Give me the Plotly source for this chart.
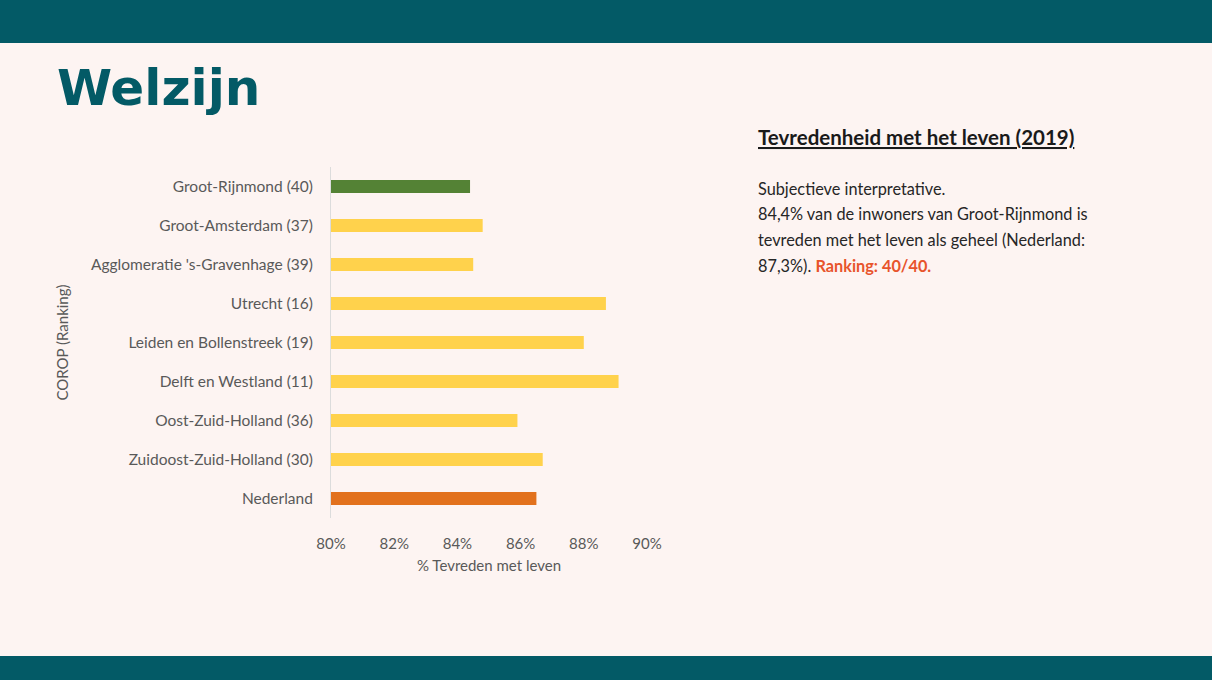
import plotly.graph_objects as go

# Data
regions = ['Groot-Rijnmond (40)', 'Groot-Amsterdam (37)', "Agglomeratie 's-Gravenhage (39)",
           'Utrecht (16)', 'Leiden en Bollenstreek (19)', 'Delft en Westland (11)',
           'Oost-Zuid-Holland (36)', 'Zuidoost-Zuid-Holland (30)', 'Nederland']
satisfied = [84.4, 84.8, 84.5, 88.7, 88.0, 89.1, 85.9, 86.7, 86.5]
bar_colors = ['#548235', '#FFD24C', '#FFD24C', '#FFD24C', '#FFD24C', '#FFD24C',
              '#FFD24C', '#FFD24C', '#E2711D']
x_ticks = [80, 82, 84, 86, 88, 90]
x_tick_labels = ['80%', '82%', '84%', '86%', '88%', '90%']

body_lines = [
    'Subjectieve interpretative.',
    '84,4% van de inwoners van Groot-Rijnmond is',
    'tevreden met het leven als geheel (Nederland:',
    "87,3%). <b><span style='color:#E8542C'>Ranking: 40/40.</span></b>",
]

W, H = 1212, 680
PLOT_L, PLOT_R, PLOT_T, PLOT_B = 331, 647, 167, 518
TEAL = '#035A66'
BG = '#FDF4F2'
FONT = 'Lato'


def px(x):
    return (x - PLOT_L) / (PLOT_R - PLOT_L)


def py(y):
    return (PLOT_B - y) / (PLOT_B - PLOT_T)


fig = go.Figure(go.Bar(x=satisfied, y=regions, orientation='h',
                       marker=dict(color=bar_colors, line=dict(width=0)),
                       width=0.33, showlegend=False, hoverinfo='x+y'))

fig.update_layout(
    width=W, height=H,
    margin=dict(l=PLOT_L, r=W - PLOT_R, t=PLOT_T, b=H - PLOT_B),
    paper_bgcolor=BG, plot_bgcolor=BG,
    font=dict(family=FONT, color='#595959', size=15),
)

fig.update_xaxes(range=[80, 90], tickvals=x_ticks, ticktext=x_tick_labels,
                 showgrid=False, zeroline=False, showline=False,
                 ticks='outside', ticklen=12, tickcolor='rgba(0,0,0,0)',
                 tickfont=dict(size=15, color='#595959'),
                 title=dict(text='% Tevreden met leven', standoff=9,
                            font=dict(size=15, color='#595959')))
fig.update_yaxes(autorange='reversed', showgrid=False, zeroline=False,
                 showline=True, linecolor='#DCDCDC', linewidth=1,
                 ticks='outside', ticklen=14, tickcolor='rgba(0,0,0,0)',
                 tickfont=dict(size=15.5, color='#595959'),
                 title=dict(text='COROP (Ranking)', standoff=18,
                            font=dict(size=15, color='#595959')))

# Top and bottom bands
fig.add_shape(type='rect', xref='paper', yref='paper', x0=px(0), x1=px(W), y0=py(43), y1=py(0),
              fillcolor=TEAL, line=dict(width=0), layer='below')
fig.add_shape(type='rect', xref='paper', yref='paper', x0=px(0), x1=px(W), y0=py(H), y1=py(656),
              fillcolor=TEAL, line=dict(width=0), layer='below')

# Slide title
fig.add_annotation(xref='paper', yref='paper', x=px(55), y=py(88), xanchor='left', yanchor='middle',
                   text='<b>Welzijn</b>', showarrow=False,
                   font=dict(family='DejaVu Sans', size=50, color=TEAL))

# Right-hand text block
fig.add_annotation(xref='paper', yref='paper', x=px(756), y=py(137), xanchor='left', yanchor='middle',
                   text='<u><b>Tevredenheid met het leven (2019)</b></u>', showarrow=False,
                   font=dict(family=FONT, size=20.5, color='#1A1A1A'))
for i, line in enumerate(body_lines):
    fig.add_annotation(xref='paper', yref='paper', x=px(756), y=py(188 + i * 25.7),
                       xanchor='left', yanchor='middle', text=line, showarrow=False,
                       font=dict(family=FONT, size=16.3, color='#262626'))

fig.write_html('out.html', config={'displayModeBar': False},
               post_script="document.body.style.margin='0';"
                           "document.body.style.background='#FDF4F2';")
